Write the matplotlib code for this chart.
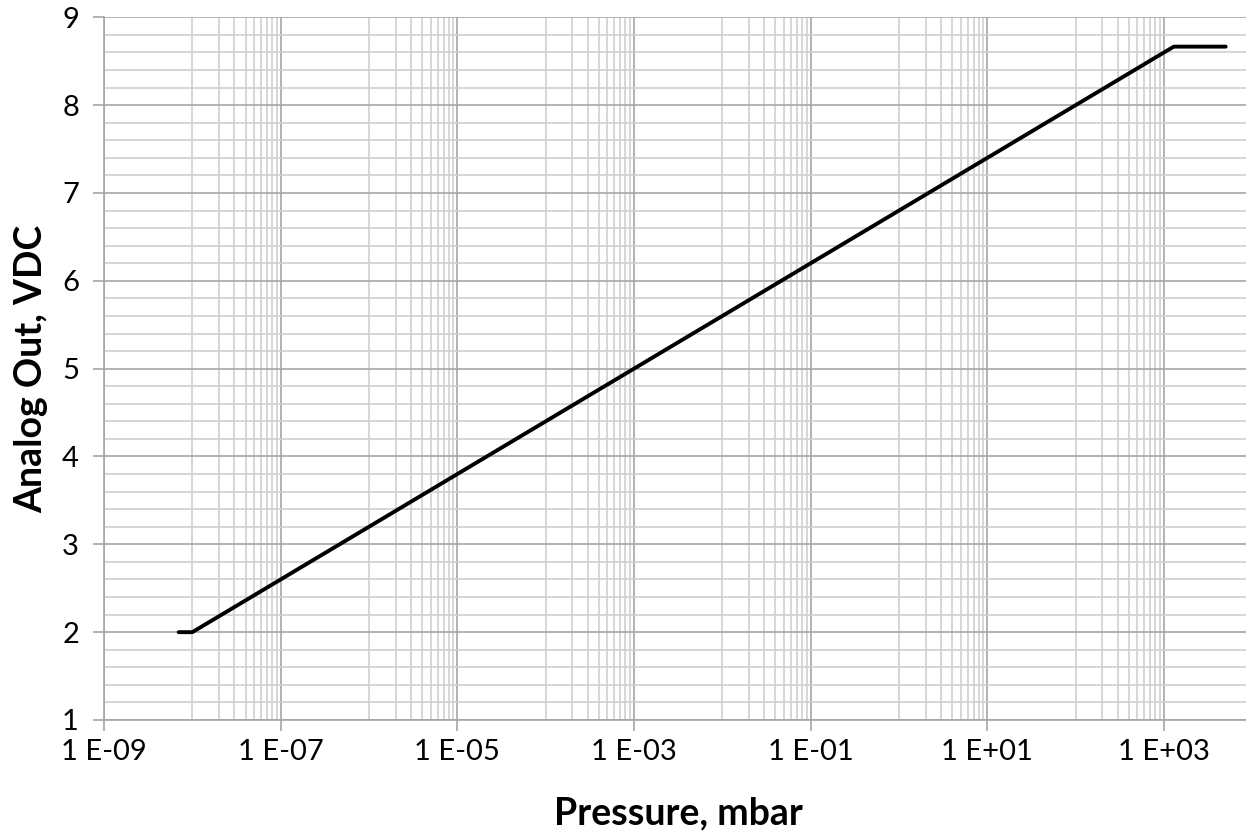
import numpy as np
import matplotlib.pyplot as plt
from matplotlib.ticker import FixedLocator, FuncFormatter, NullFormatter

# transfer curve
pressure = [7e-9, 1e-8, 1.29e3, 5e3]
volts = [2.0, 2.0, 8.666, 8.666]

major_exp = [-9, -7, -5, -3, -1, 1, 3]
minor_exp = [-8, -6, -4, -2, 0, 2]
y_ticks = [1, 2, 3, 4, 5, 6, 7, 8, 9]


def main(output_file):
    plt.rcParams['font.family'] = ['Lato', 'DejaVu Sans']

    fig = plt.figure(figsize=(12.46, 8.36), dpi=100)
    ax = fig.add_axes([104 / 1246, 116 / 836, 1148.3 / 1246, 702.7 / 836])

    ax.set_xscale('log')
    ax.set_xlim(1e-9, 1e4)
    ax.set_ylim(1, 9)

    major_x = [10.0 ** e for e in major_exp]
    minor_x = [k * 10.0 ** e for e in minor_exp for k in range(1, 10)]

    ax.xaxis.set_major_locator(FixedLocator(major_x))
    ax.xaxis.set_minor_locator(FixedLocator(minor_x))
    ax.xaxis.set_major_formatter(
        FuncFormatter(lambda v, pos: "1 E%+03d" % int(round(np.log10(v)))))
    ax.xaxis.set_minor_formatter(NullFormatter())

    ax.set_yticks(y_ticks)
    ax.set_yticks(np.arange(1, 9.01, 0.2), minor=True)

    ax.grid(True, which='major', color='#a6a6a6', linewidth=1.2)
    ax.grid(True, which='minor', color='#d0d0d0', linewidth=1.2)
    ax.set_axisbelow(True)

    ax.tick_params(which='major', direction='out', length=8, width=1.2,
                   color='#a6a6a6', labelsize=21, pad=6)
    ax.tick_params(axis='y', which='major', pad=10)
    ax.tick_params(which='minor', length=0)

    for side in ('top', 'right'):
        ax.spines[side].set_visible(False)
    for side in ('left', 'bottom'):
        ax.spines[side].set_color('#a6a6a6')
        ax.spines[side].set_linewidth(1.2)

    ax.plot(pressure, volts, color='black', linewidth=2.8,
            solid_capstyle='round', solid_joinstyle='round', zorder=3)

    ax.set_xlabel('Pressure, mbar', fontsize=27, fontweight='bold', labelpad=22)
    ax.set_ylabel('Analog Out, VDC', fontsize=27, fontweight='bold', labelpad=10)

    fig.savefig(output_file, dpi=100)


if __name__ == "__main__":
    main('out.png')
